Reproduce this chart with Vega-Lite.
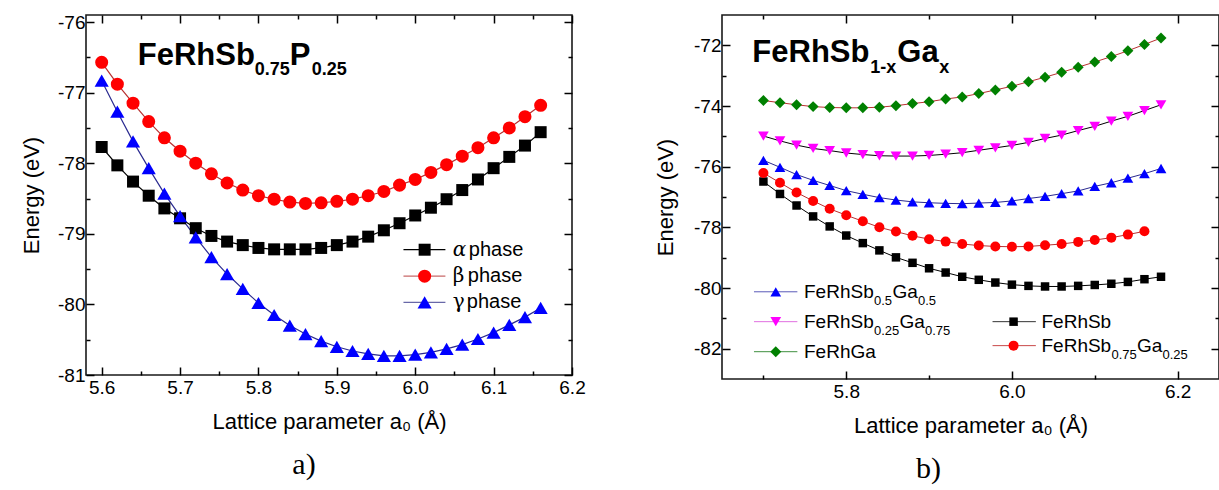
{
"$schema": "https://vega.github.io/schema/vega-lite/v6.json",
"background": "white",
"padding": {"left": 19, "top": 12, "right": 0, "bottom": 0},
"spacing": 66,
"config": {
  "font": "Liberation Sans",
  "view": {"stroke": "#1a1a1a", "strokeWidth": 1.6},
  "axis": {"grid": false, "domain": false, "tickColor": "#000000", "tickWidth": 1.5, "labelFont": "Liberation Sans", "labelFontSize": 19, "labelColor": "#000", "titleFont": "Liberation Sans", "titleFontSize": 22, "titleFontWeight": "normal", "titleColor": "#000", "labelFlush": false, "labelOverlap": false, "labelBound": false}
},
"datasets": {
  "phase": [
    {"a":5.60,"E":-77.77,"phase":"alpha"},{"a":5.62,"E":-78.03,"phase":"alpha"},{"a":5.64,"E":-78.26,"phase":"alpha"},{"a":5.66,"E":-78.46,"phase":"alpha"},{"a":5.68,"E":-78.64,"phase":"alpha"},{"a":5.70,"E":-78.78,"phase":"alpha"},{"a":5.72,"E":-78.92,"phase":"alpha"},{"a":5.74,"E":-79.03,"phase":"alpha"},{"a":5.76,"E":-79.11,"phase":"alpha"},{"a":5.78,"E":-79.16,"phase":"alpha"},{"a":5.80,"E":-79.20,"phase":"alpha"},{"a":5.82,"E":-79.22,"phase":"alpha"},{"a":5.84,"E":-79.22,"phase":"alpha"},{"a":5.86,"E":-79.22,"phase":"alpha"},{"a":5.88,"E":-79.20,"phase":"alpha"},{"a":5.90,"E":-79.16,"phase":"alpha"},{"a":5.92,"E":-79.11,"phase":"alpha"},{"a":5.94,"E":-79.04,"phase":"alpha"},{"a":5.96,"E":-78.95,"phase":"alpha"},{"a":5.98,"E":-78.85,"phase":"alpha"},{"a":6.00,"E":-78.74,"phase":"alpha"},{"a":6.02,"E":-78.63,"phase":"alpha"},{"a":6.04,"E":-78.51,"phase":"alpha"},{"a":6.06,"E":-78.38,"phase":"alpha"},{"a":6.08,"E":-78.23,"phase":"alpha"},{"a":6.10,"E":-78.07,"phase":"alpha"},{"a":6.12,"E":-77.91,"phase":"alpha"},{"a":6.14,"E":-77.75,"phase":"alpha"},{"a":6.16,"E":-77.56,"phase":"alpha"},
    {"a":5.60,"E":-76.57,"phase":"beta"},{"a":5.62,"E":-76.88,"phase":"beta"},{"a":5.64,"E":-77.15,"phase":"beta"},{"a":5.66,"E":-77.41,"phase":"beta"},{"a":5.68,"E":-77.64,"phase":"beta"},{"a":5.70,"E":-77.83,"phase":"beta"},{"a":5.72,"E":-78.00,"phase":"beta"},{"a":5.74,"E":-78.15,"phase":"beta"},{"a":5.76,"E":-78.28,"phase":"beta"},{"a":5.78,"E":-78.38,"phase":"beta"},{"a":5.80,"E":-78.46,"phase":"beta"},{"a":5.82,"E":-78.51,"phase":"beta"},{"a":5.84,"E":-78.55,"phase":"beta"},{"a":5.86,"E":-78.57,"phase":"beta"},{"a":5.88,"E":-78.56,"phase":"beta"},{"a":5.90,"E":-78.54,"phase":"beta"},{"a":5.92,"E":-78.51,"phase":"beta"},{"a":5.94,"E":-78.46,"phase":"beta"},{"a":5.96,"E":-78.40,"phase":"beta"},{"a":5.98,"E":-78.31,"phase":"beta"},{"a":6.00,"E":-78.23,"phase":"beta"},{"a":6.02,"E":-78.13,"phase":"beta"},{"a":6.04,"E":-78.02,"phase":"beta"},{"a":6.06,"E":-77.90,"phase":"beta"},{"a":6.08,"E":-77.78,"phase":"beta"},{"a":6.10,"E":-77.64,"phase":"beta"},{"a":6.12,"E":-77.50,"phase":"beta"},{"a":6.14,"E":-77.34,"phase":"beta"},{"a":6.16,"E":-77.18,"phase":"beta"},
    {"a":5.60,"E":-76.83,"phase":"gamma"},{"a":5.62,"E":-77.27,"phase":"gamma"},{"a":5.64,"E":-77.69,"phase":"gamma"},{"a":5.66,"E":-78.07,"phase":"gamma"},{"a":5.68,"E":-78.43,"phase":"gamma"},{"a":5.70,"E":-78.75,"phase":"gamma"},{"a":5.72,"E":-79.05,"phase":"gamma"},{"a":5.74,"E":-79.33,"phase":"gamma"},{"a":5.76,"E":-79.57,"phase":"gamma"},{"a":5.78,"E":-79.78,"phase":"gamma"},{"a":5.80,"E":-79.98,"phase":"gamma"},{"a":5.82,"E":-80.15,"phase":"gamma"},{"a":5.84,"E":-80.30,"phase":"gamma"},{"a":5.86,"E":-80.42,"phase":"gamma"},{"a":5.88,"E":-80.52,"phase":"gamma"},{"a":5.90,"E":-80.60,"phase":"gamma"},{"a":5.92,"E":-80.66,"phase":"gamma"},{"a":5.94,"E":-80.70,"phase":"gamma"},{"a":5.96,"E":-80.73,"phase":"gamma"},{"a":5.98,"E":-80.73,"phase":"gamma"},{"a":6.00,"E":-80.71,"phase":"gamma"},{"a":6.02,"E":-80.68,"phase":"gamma"},{"a":6.04,"E":-80.63,"phase":"gamma"},{"a":6.06,"E":-80.57,"phase":"gamma"},{"a":6.08,"E":-80.49,"phase":"gamma"},{"a":6.10,"E":-80.40,"phase":"gamma"},{"a":6.12,"E":-80.29,"phase":"gamma"},{"a":6.14,"E":-80.18,"phase":"gamma"},{"a":6.16,"E":-80.05,"phase":"gamma"}
  ],
  "alloy": [
    {"a":5.70,"E":-73.82,"alloy":"FeRhGa"},{"a":5.72,"E":-73.89,"alloy":"FeRhGa"},{"a":5.74,"E":-73.96,"alloy":"FeRhGa"},{"a":5.76,"E":-74.02,"alloy":"FeRhGa"},{"a":5.78,"E":-74.05,"alloy":"FeRhGa"},{"a":5.80,"E":-74.06,"alloy":"FeRhGa"},{"a":5.82,"E":-74.06,"alloy":"FeRhGa"},{"a":5.84,"E":-74.04,"alloy":"FeRhGa"},{"a":5.86,"E":-73.99,"alloy":"FeRhGa"},{"a":5.88,"E":-73.92,"alloy":"FeRhGa"},{"a":5.90,"E":-73.86,"alloy":"FeRhGa"},{"a":5.92,"E":-73.77,"alloy":"FeRhGa"},{"a":5.94,"E":-73.70,"alloy":"FeRhGa"},{"a":5.96,"E":-73.59,"alloy":"FeRhGa"},{"a":5.98,"E":-73.47,"alloy":"FeRhGa"},{"a":6.00,"E":-73.35,"alloy":"FeRhGa"},{"a":6.02,"E":-73.20,"alloy":"FeRhGa"},{"a":6.04,"E":-73.05,"alloy":"FeRhGa"},{"a":6.06,"E":-72.89,"alloy":"FeRhGa"},{"a":6.08,"E":-72.72,"alloy":"FeRhGa"},{"a":6.10,"E":-72.55,"alloy":"FeRhGa"},{"a":6.12,"E":-72.37,"alloy":"FeRhGa"},{"a":6.14,"E":-72.18,"alloy":"FeRhGa"},{"a":6.16,"E":-71.97,"alloy":"FeRhGa"},{"a":6.18,"E":-71.76,"alloy":"FeRhGa"},
    {"a":5.70,"E":-74.99,"alloy":"Sb25"},{"a":5.72,"E":-75.15,"alloy":"Sb25"},{"a":5.74,"E":-75.29,"alloy":"Sb25"},{"a":5.76,"E":-75.40,"alloy":"Sb25"},{"a":5.78,"E":-75.47,"alloy":"Sb25"},{"a":5.80,"E":-75.55,"alloy":"Sb25"},{"a":5.82,"E":-75.60,"alloy":"Sb25"},{"a":5.84,"E":-75.64,"alloy":"Sb25"},{"a":5.86,"E":-75.65,"alloy":"Sb25"},{"a":5.88,"E":-75.65,"alloy":"Sb25"},{"a":5.90,"E":-75.63,"alloy":"Sb25"},{"a":5.92,"E":-75.59,"alloy":"Sb25"},{"a":5.94,"E":-75.54,"alloy":"Sb25"},{"a":5.96,"E":-75.46,"alloy":"Sb25"},{"a":5.98,"E":-75.38,"alloy":"Sb25"},{"a":6.00,"E":-75.30,"alloy":"Sb25"},{"a":6.02,"E":-75.20,"alloy":"Sb25"},{"a":6.04,"E":-75.07,"alloy":"Sb25"},{"a":6.06,"E":-74.96,"alloy":"Sb25"},{"a":6.08,"E":-74.81,"alloy":"Sb25"},{"a":6.10,"E":-74.67,"alloy":"Sb25"},{"a":6.12,"E":-74.50,"alloy":"Sb25"},{"a":6.14,"E":-74.34,"alloy":"Sb25"},{"a":6.16,"E":-74.15,"alloy":"Sb25"},{"a":6.18,"E":-73.96,"alloy":"Sb25"},
    {"a":5.70,"E":-75.79,"alloy":"Sb50"},{"a":5.72,"E":-76.02,"alloy":"Sb50"},{"a":5.74,"E":-76.26,"alloy":"Sb50"},{"a":5.76,"E":-76.45,"alloy":"Sb50"},{"a":5.78,"E":-76.62,"alloy":"Sb50"},{"a":5.80,"E":-76.79,"alloy":"Sb50"},{"a":5.82,"E":-76.91,"alloy":"Sb50"},{"a":5.84,"E":-77.02,"alloy":"Sb50"},{"a":5.86,"E":-77.10,"alloy":"Sb50"},{"a":5.88,"E":-77.16,"alloy":"Sb50"},{"a":5.90,"E":-77.19,"alloy":"Sb50"},{"a":5.92,"E":-77.21,"alloy":"Sb50"},{"a":5.94,"E":-77.22,"alloy":"Sb50"},{"a":5.96,"E":-77.20,"alloy":"Sb50"},{"a":5.98,"E":-77.18,"alloy":"Sb50"},{"a":6.00,"E":-77.13,"alloy":"Sb50"},{"a":6.02,"E":-77.05,"alloy":"Sb50"},{"a":6.04,"E":-76.98,"alloy":"Sb50"},{"a":6.06,"E":-76.89,"alloy":"Sb50"},{"a":6.08,"E":-76.80,"alloy":"Sb50"},{"a":6.10,"E":-76.65,"alloy":"Sb50"},{"a":6.12,"E":-76.53,"alloy":"Sb50"},{"a":6.14,"E":-76.38,"alloy":"Sb50"},{"a":6.16,"E":-76.23,"alloy":"Sb50"},{"a":6.18,"E":-76.06,"alloy":"Sb50"},
    {"a":5.70,"E":-76.21,"alloy":"Sb75"},{"a":5.72,"E":-76.53,"alloy":"Sb75"},{"a":5.74,"E":-76.85,"alloy":"Sb75"},{"a":5.76,"E":-77.13,"alloy":"Sb75"},{"a":5.78,"E":-77.39,"alloy":"Sb75"},{"a":5.80,"E":-77.60,"alloy":"Sb75"},{"a":5.82,"E":-77.80,"alloy":"Sb75"},{"a":5.84,"E":-78.00,"alloy":"Sb75"},{"a":5.86,"E":-78.14,"alloy":"Sb75"},{"a":5.88,"E":-78.28,"alloy":"Sb75"},{"a":5.90,"E":-78.39,"alloy":"Sb75"},{"a":5.92,"E":-78.47,"alloy":"Sb75"},{"a":5.94,"E":-78.55,"alloy":"Sb75"},{"a":5.96,"E":-78.60,"alloy":"Sb75"},{"a":5.98,"E":-78.63,"alloy":"Sb75"},{"a":6.00,"E":-78.64,"alloy":"Sb75"},{"a":6.02,"E":-78.63,"alloy":"Sb75"},{"a":6.04,"E":-78.59,"alloy":"Sb75"},{"a":6.06,"E":-78.55,"alloy":"Sb75"},{"a":6.08,"E":-78.48,"alloy":"Sb75"},{"a":6.10,"E":-78.42,"alloy":"Sb75"},{"a":6.12,"E":-78.34,"alloy":"Sb75"},{"a":6.14,"E":-78.24,"alloy":"Sb75"},{"a":6.16,"E":-78.13,"alloy":"Sb75"},
    {"a":5.70,"E":-76.49,"alloy":"FeRhSb"},{"a":5.72,"E":-76.90,"alloy":"FeRhSb"},{"a":5.74,"E":-77.28,"alloy":"FeRhSb"},{"a":5.76,"E":-77.64,"alloy":"FeRhSb"},{"a":5.78,"E":-77.97,"alloy":"FeRhSb"},{"a":5.80,"E":-78.27,"alloy":"FeRhSb"},{"a":5.82,"E":-78.52,"alloy":"FeRhSb"},{"a":5.84,"E":-78.76,"alloy":"FeRhSb"},{"a":5.86,"E":-78.99,"alloy":"FeRhSb"},{"a":5.88,"E":-79.17,"alloy":"FeRhSb"},{"a":5.90,"E":-79.35,"alloy":"FeRhSb"},{"a":5.92,"E":-79.49,"alloy":"FeRhSb"},{"a":5.94,"E":-79.63,"alloy":"FeRhSb"},{"a":5.96,"E":-79.73,"alloy":"FeRhSb"},{"a":5.98,"E":-79.82,"alloy":"FeRhSb"},{"a":6.00,"E":-79.89,"alloy":"FeRhSb"},{"a":6.02,"E":-79.93,"alloy":"FeRhSb"},{"a":6.04,"E":-79.95,"alloy":"FeRhSb"},{"a":6.06,"E":-79.95,"alloy":"FeRhSb"},{"a":6.08,"E":-79.93,"alloy":"FeRhSb"},{"a":6.10,"E":-79.90,"alloy":"FeRhSb"},{"a":6.12,"E":-79.86,"alloy":"FeRhSb"},{"a":6.14,"E":-79.80,"alloy":"FeRhSb"},{"a":6.16,"E":-79.71,"alloy":"FeRhSb"},{"a":6.18,"E":-79.63,"alloy":"FeRhSb"}
  ]
},
"hconcat": [
{
  "width": 486, "height": 360,
  "title": {"text": "a)", "orient": "bottom", "font": "Liberation Serif", "fontSize": 30, "fontWeight": "normal", "color": "#000", "offset": 18, "frame": "group", "anchor": "middle", "dx": -25},
  "resolve": {"axis": {"x": "independent", "y": "independent"}},
  "layer": [
    {"data": {"name": "phase"},
     "mark": {"type": "line", "strokeWidth": 1.2},
     "encoding": {
       "x": {"field": "a", "type": "quantitative", "scale": {"domain": [5.58, 6.2], "nice": false, "zero": false},
             "axis": {"orient": "bottom", "values": [5.6,5.65,5.7,5.75,5.8,5.85,5.9,5.95,6.0,6.05,6.1,6.15,6.2],
                      "labelExpr": "abs(datum.value*10 - round(datum.value*10)) < 0.01 ? format(datum.value, '.1f') : ''",
                      "tickSize": {"condition": {"test": "abs(datum.value*10 - round(datum.value*10)) < 0.01", "value": -8}, "value": -4},
                      "labelPadding": 11, "title": "Lattice parameter a₀ (Å)", "titlePadding": 10}},
       "y": {"field": "E", "type": "quantitative", "scale": {"domain": [-81, -75.9], "nice": false, "zero": false},
             "axis": {"orient": "left", "values": [-81,-80.5,-80,-79.5,-79,-78.5,-78,-77.5,-77,-76.5,-76],
                      "labelExpr": "abs(datum.value - round(datum.value)) < 0.01 ? '' + round(datum.value) : ''",
                      "tickSize": {"condition": {"test": "abs(datum.value - round(datum.value)) < 0.01", "value": -8}, "value": -4},
                      "labelPadding": 9, "title": "Energy (eV)", "titlePadding": 14}},
       "stroke": {"field": "phase", "type": "nominal", "scale": {"domain": ["alpha", "beta", "gamma"], "range": ["#000000", "#b83030", "#2a2a90"]}, "legend": null}
     }},
    {"data": {"name": "phase"},
     "transform": [{"filter": "datum.phase === 'alpha'"}],
     "mark": {"type": "point", "shape": "square", "filled": true, "size": 144, "color": "#000000", "opacity": 1},
     "encoding": {
       "x": {"field": "a", "type": "quantitative",
             "axis": {"orient": "top", "values": [5.6,5.65,5.7,5.75,5.8,5.85,5.9,5.95,6.0,6.05,6.1,6.15,6.2], "labels": false, "title": null,
                      "tickSize": {"condition": {"test": "abs(datum.value*10 - round(datum.value*10)) < 0.01", "value": -8}, "value": -4}}},
       "y": {"field": "E", "type": "quantitative",
             "axis": {"orient": "right", "values": [-81,-80.5,-80,-79.5,-79,-78.5,-78,-77.5,-77,-76.5,-76], "labels": false, "title": null,
                      "tickSize": {"condition": {"test": "abs(datum.value - round(datum.value)) < 0.01", "value": -8}, "value": -4}}}
     }},
    {"data": {"name": "phase"},
     "transform": [{"filter": "datum.phase === 'beta'"}],
     "mark": {"type": "point", "shape": "circle", "filled": true, "size": 170, "color": "#ff0000", "opacity": 1},
     "encoding": {"x": {"field": "a", "type": "quantitative", "axis": null}, "y": {"field": "E", "type": "quantitative", "axis": null}}},
    {"data": {"name": "phase"},
     "transform": [{"filter": "datum.phase === 'gamma'"}],
     "mark": {"type": "point", "shape": "triangle-up", "filled": true, "size": 200, "color": "#0000ff", "opacity": 1},
     "encoding": {"x": {"field": "a", "type": "quantitative", "axis": null}, "y": {"field": "E", "type": "quantitative", "axis": null}}},
    {"data": {"values": [{}]},
     "layer": [
       {"mark": {"type": "text", "text": "FeRhSb", "font": "Liberation Sans", "fontWeight": "bold", "fontSize": 31, "align": "left", "baseline": "alphabetic", "color": "#000"},
        "encoding": {"x": {"datum": 5.646, "type": "quantitative", "axis": null}, "y": {"datum": -76.61, "type": "quantitative", "axis": null}}},
       {"mark": {"type": "text", "text": "0.75", "font": "Liberation Sans", "fontWeight": "bold", "fontSize": 18, "align": "left", "baseline": "alphabetic", "dx": 117, "dy": 10, "color": "#000"},
        "encoding": {"x": {"datum": 5.646, "type": "quantitative", "axis": null}, "y": {"datum": -76.61, "type": "quantitative", "axis": null}}},
       {"mark": {"type": "text", "text": "P", "font": "Liberation Sans", "fontWeight": "bold", "fontSize": 31, "align": "left", "baseline": "alphabetic", "dx": 152, "color": "#000"},
        "encoding": {"x": {"datum": 5.646, "type": "quantitative", "axis": null}, "y": {"datum": -76.61, "type": "quantitative", "axis": null}}},
       {"mark": {"type": "text", "text": "0.25", "font": "Liberation Sans", "fontWeight": "bold", "fontSize": 18, "align": "left", "baseline": "alphabetic", "dx": 174, "dy": 10, "color": "#000"},
        "encoding": {"x": {"datum": 5.646, "type": "quantitative", "axis": null}, "y": {"datum": -76.61, "type": "quantitative", "axis": null}}},
       {"mark": {"type": "rule", "color": "#000000", "strokeWidth": 1.2},
        "encoding": {"x": {"datum": 5.985, "type": "quantitative", "axis": null}, "x2": {"datum": 6.0385}, "y": {"datum": -79.225, "type": "quantitative", "axis": null}}},
       {"mark": {"type": "rule", "color": "#c86868", "strokeWidth": 1.2},
        "encoding": {"x": {"datum": 5.985, "type": "quantitative", "axis": null}, "x2": {"datum": 6.0385}, "y": {"datum": -79.60, "type": "quantitative", "axis": null}}},
       {"mark": {"type": "rule", "color": "#6868a8", "strokeWidth": 1.2},
        "encoding": {"x": {"datum": 5.985, "type": "quantitative", "axis": null}, "x2": {"datum": 6.0385}, "y": {"datum": -79.97, "type": "quantitative", "axis": null}}},
       {"mark": {"type": "point", "shape": "square", "filled": true, "size": 144, "color": "#000000", "opacity": 1},
        "encoding": {"x": {"datum": 6.012, "type": "quantitative", "axis": null}, "y": {"datum": -79.225, "type": "quantitative", "axis": null}}},
       {"mark": {"type": "point", "shape": "circle", "filled": true, "size": 170, "color": "#ff0000", "opacity": 1},
        "encoding": {"x": {"datum": 6.012, "type": "quantitative", "axis": null}, "y": {"datum": -79.60, "type": "quantitative", "axis": null}}},
       {"mark": {"type": "point", "shape": "triangle-up", "filled": true, "size": 200, "color": "#0000ff", "opacity": 1},
        "encoding": {"x": {"datum": 6.012, "type": "quantitative", "axis": null}, "y": {"datum": -79.97, "type": "quantitative", "axis": null}}},
       {"mark": {"type": "text", "text": "α", "font": "DejaVu Serif", "fontStyle": "italic", "fontSize": 20, "align": "left", "baseline": "middle", "color": "#000"},
        "encoding": {"x": {"datum": 6.048, "type": "quantitative", "axis": null}, "y": {"datum": -79.225, "type": "quantitative", "axis": null}}},
       {"mark": {"type": "text", "text": "β", "font": "DejaVu Serif", "fontSize": 20, "align": "left", "baseline": "middle", "color": "#000"},
        "encoding": {"x": {"datum": 6.048, "type": "quantitative", "axis": null}, "y": {"datum": -79.60, "type": "quantitative", "axis": null}}},
       {"mark": {"type": "text", "text": "γ", "font": "DejaVu Serif", "fontSize": 20, "align": "left", "baseline": "middle", "color": "#000"},
        "encoding": {"x": {"datum": 6.048, "type": "quantitative", "axis": null}, "y": {"datum": -79.97, "type": "quantitative", "axis": null}}},
       {"mark": {"type": "text", "text": "phase", "font": "Liberation Sans", "fontSize": 20, "align": "left", "baseline": "middle", "dx": 16, "color": "#000"},
        "encoding": {"x": {"datum": 6.048, "type": "quantitative", "axis": null}, "y": {"datum": -79.225, "type": "quantitative", "axis": null}}},
       {"mark": {"type": "text", "text": "phase", "font": "Liberation Sans", "fontSize": 20, "align": "left", "baseline": "middle", "dx": 15, "color": "#000"},
        "encoding": {"x": {"datum": 6.048, "type": "quantitative", "axis": null}, "y": {"datum": -79.60, "type": "quantitative", "axis": null}}},
       {"mark": {"type": "text", "text": "phase", "font": "Liberation Sans", "fontSize": 20, "align": "left", "baseline": "middle", "dx": 14, "color": "#000"},
        "encoding": {"x": {"datum": 6.048, "type": "quantitative", "axis": null}, "y": {"datum": -79.97, "type": "quantitative", "axis": null}}}
     ]}
  ]
},
{
  "width": 497, "height": 364,
  "title": {"text": "b)", "orient": "bottom", "font": "Liberation Serif", "fontSize": 30, "fontWeight": "normal", "color": "#000", "offset": 18, "frame": "group", "anchor": "middle", "dx": -42},
  "resolve": {"axis": {"x": "independent", "y": "independent"}},
  "layer": [
    {"data": {"name": "alloy"},
     "mark": {"type": "line", "strokeWidth": 1},
     "encoding": {
       "x": {"field": "a", "type": "quantitative", "scale": {"domain": [5.65, 6.25], "nice": false, "zero": false},
             "axis": {"orient": "bottom", "values": [5.7,5.8,5.9,6.0,6.1,6.2],
                      "labelExpr": "abs(datum.value*5 - round(datum.value*5)) < 0.01 ? format(datum.value, '.1f') : ''",
                      "tickSize": {"condition": {"test": "abs(datum.value*5 - round(datum.value*5)) < 0.01", "value": -8}, "value": -4},
                      "labelPadding": 11, "title": "Lattice parameter a₀ (Å)", "titlePadding": 10}},
       "y": {"field": "E", "type": "quantitative", "scale": {"domain": [-83, -71], "nice": false, "zero": false},
             "axis": {"orient": "left", "values": [-82,-81,-80,-79,-78,-77,-76,-75,-74,-73,-72],
                      "labelExpr": "abs(datum.value/2 - round(datum.value/2)) < 0.01 ? '' + round(datum.value) : ''",
                      "tickSize": {"condition": {"test": "abs(datum.value/2 - round(datum.value/2)) < 0.01", "value": -8}, "value": -4},
                      "labelPadding": 9, "title": "Energy (eV)", "titlePadding": 16}},
       "stroke": {"field": "alloy", "type": "nominal", "scale": {"domain": ["FeRhSb", "Sb75", "Sb50", "Sb25", "FeRhGa"], "range": ["#333333", "#c84848", "#4050a8", "#e070e0", "#3f8f3f"]}, "legend": null}
     }},
    {"data": {"name": "alloy"},
     "transform": [{"filter": "datum.alloy === 'FeRhSb'"}],
     "mark": {"type": "point", "shape": "square", "filled": true, "size": 72, "color": "#000000", "opacity": 1},
     "encoding": {
       "x": {"field": "a", "type": "quantitative",
             "axis": {"orient": "top", "values": [5.7,5.8,5.9,6.0,6.1,6.2], "labels": false, "title": null,
                      "tickSize": {"condition": {"test": "abs(datum.value*5 - round(datum.value*5)) < 0.01", "value": -8}, "value": -4}}},
       "y": {"field": "E", "type": "quantitative",
             "axis": {"orient": "right", "values": [-82,-81,-80,-79,-78,-77,-76,-75,-74,-73,-72], "labels": false, "title": null,
                      "tickSize": {"condition": {"test": "abs(datum.value/2 - round(datum.value/2)) < 0.01", "value": -8}, "value": -4}}}
     }},
    {"data": {"name": "alloy"},
     "transform": [{"filter": "datum.alloy === 'Sb75'"}],
     "mark": {"type": "point", "shape": "circle", "filled": true, "size": 100, "color": "#ff0000", "opacity": 1},
     "encoding": {"x": {"field": "a", "type": "quantitative", "axis": null}, "y": {"field": "E", "type": "quantitative", "axis": null}}},
    {"data": {"name": "alloy"},
     "transform": [{"filter": "datum.alloy === 'Sb50'"}],
     "mark": {"type": "point", "shape": "triangle-up", "filled": true, "size": 115, "color": "#0000ff", "opacity": 1},
     "encoding": {"x": {"field": "a", "type": "quantitative", "axis": null}, "y": {"field": "E", "type": "quantitative", "axis": null}}},
    {"data": {"name": "alloy"},
     "transform": [{"filter": "datum.alloy === 'Sb25'"}],
     "mark": {"type": "point", "shape": "triangle-down", "filled": true, "size": 115, "color": "#ff00ff", "opacity": 1},
     "encoding": {"x": {"field": "a", "type": "quantitative", "axis": null}, "y": {"field": "E", "type": "quantitative", "axis": null}}},
    {"data": {"name": "alloy"},
     "transform": [{"filter": "datum.alloy === 'FeRhGa'"}],
     "mark": {"type": "point", "shape": "diamond", "filled": true, "size": 120, "color": "#008000", "opacity": 1},
     "encoding": {"x": {"field": "a", "type": "quantitative", "axis": null}, "y": {"field": "E", "type": "quantitative", "axis": null}}},
    {"data": {"values": [{}]},
     "layer": [
       {"mark": {"type": "text", "text": "FeRhSb", "font": "Liberation Sans", "fontWeight": "bold", "fontSize": 31, "align": "left", "baseline": "alphabetic", "color": "#000"},
        "encoding": {"x": {"datum": 5.6866, "type": "quantitative", "axis": null}, "y": {"datum": -72.56, "type": "quantitative", "axis": null}}},
       {"mark": {"type": "text", "text": "1-x", "font": "Liberation Sans", "fontWeight": "bold", "fontSize": 18, "align": "left", "baseline": "alphabetic", "dx": 118, "dy": 10.5, "color": "#000"},
        "encoding": {"x": {"datum": 5.6866, "type": "quantitative", "axis": null}, "y": {"datum": -72.56, "type": "quantitative", "axis": null}}},
       {"mark": {"type": "text", "text": "Ga", "font": "Liberation Sans", "fontWeight": "bold", "fontSize": 31, "align": "left", "baseline": "alphabetic", "dx": 145, "color": "#000"},
        "encoding": {"x": {"datum": 5.6866, "type": "quantitative", "axis": null}, "y": {"datum": -72.56, "type": "quantitative", "axis": null}}},
       {"mark": {"type": "text", "text": "x", "font": "Liberation Sans", "fontWeight": "bold", "fontSize": 18, "align": "left", "baseline": "alphabetic", "dx": 187, "dy": 10.5, "color": "#000"},
        "encoding": {"x": {"datum": 5.6866, "type": "quantitative", "axis": null}, "y": {"datum": -72.56, "type": "quantitative", "axis": null}}},

       {"mark": {"type": "rule", "color": "#5a5ab8", "strokeWidth": 1},
        "encoding": {"x": {"datum": 5.6886, "type": "quantitative", "axis": null}, "x2": {"datum": 5.741}, "y": {"datum": -80.125, "type": "quantitative", "axis": null}}},
       {"mark": {"type": "rule", "color": "#e070e0", "strokeWidth": 1},
        "encoding": {"x": {"datum": 5.6886, "type": "quantitative", "axis": null}, "x2": {"datum": 5.741}, "y": {"datum": -81.11, "type": "quantitative", "axis": null}}},
       {"mark": {"type": "rule", "color": "#3f8f3f", "strokeWidth": 1},
        "encoding": {"x": {"datum": 5.6886, "type": "quantitative", "axis": null}, "x2": {"datum": 5.741}, "y": {"datum": -82.10, "type": "quantitative", "axis": null}}},
       {"mark": {"type": "rule", "color": "#333333", "strokeWidth": 1},
        "encoding": {"x": {"datum": 5.9766, "type": "quantitative", "axis": null}, "x2": {"datum": 6.0289}, "y": {"datum": -81.11, "type": "quantitative", "axis": null}}},
       {"mark": {"type": "rule", "color": "#c84848", "strokeWidth": 1},
        "encoding": {"x": {"datum": 5.9766, "type": "quantitative", "axis": null}, "x2": {"datum": 6.0289}, "y": {"datum": -81.90, "type": "quantitative", "axis": null}}},

       {"mark": {"type": "point", "shape": "triangle-up", "filled": true, "size": 115, "color": "#0000ff", "opacity": 1},
        "encoding": {"x": {"datum": 5.7149, "type": "quantitative", "axis": null}, "y": {"datum": -80.125, "type": "quantitative", "axis": null}}},
       {"mark": {"type": "point", "shape": "triangle-down", "filled": true, "size": 115, "color": "#ff00ff", "opacity": 1},
        "encoding": {"x": {"datum": 5.7149, "type": "quantitative", "axis": null}, "y": {"datum": -81.11, "type": "quantitative", "axis": null}}},
       {"mark": {"type": "point", "shape": "diamond", "filled": true, "size": 120, "color": "#008000", "opacity": 1},
        "encoding": {"x": {"datum": 5.7149, "type": "quantitative", "axis": null}, "y": {"datum": -82.10, "type": "quantitative", "axis": null}}},
       {"mark": {"type": "point", "shape": "square", "filled": true, "size": 72, "color": "#000000", "opacity": 1},
        "encoding": {"x": {"datum": 6.002, "type": "quantitative", "axis": null}, "y": {"datum": -81.11, "type": "quantitative", "axis": null}}},
       {"mark": {"type": "point", "shape": "circle", "filled": true, "size": 100, "color": "#ff0000", "opacity": 1},
        "encoding": {"x": {"datum": 6.002, "type": "quantitative", "axis": null}, "y": {"datum": -81.90, "type": "quantitative", "axis": null}}},

       {"mark": {"type": "text", "text": "FeRhSb", "fontSize": 19, "align": "left", "baseline": "middle", "color": "#000"},
        "encoding": {"x": {"datum": 5.749, "type": "quantitative", "axis": null}, "y": {"datum": -80.125, "type": "quantitative", "axis": null}}},
       {"mark": {"type": "text", "text": "0.5", "fontSize": 13, "align": "left", "baseline": "middle", "dx": 70, "dy": 9, "color": "#000"},
        "encoding": {"x": {"datum": 5.749, "type": "quantitative", "axis": null}, "y": {"datum": -80.125, "type": "quantitative", "axis": null}}},
       {"mark": {"type": "text", "text": "Ga", "fontSize": 19, "align": "left", "baseline": "middle", "dx": 88.5, "color": "#000"},
        "encoding": {"x": {"datum": 5.749, "type": "quantitative", "axis": null}, "y": {"datum": -80.125, "type": "quantitative", "axis": null}}},
       {"mark": {"type": "text", "text": "0.5", "fontSize": 13, "align": "left", "baseline": "middle", "dx": 114, "dy": 9, "color": "#000"},
        "encoding": {"x": {"datum": 5.749, "type": "quantitative", "axis": null}, "y": {"datum": -80.125, "type": "quantitative", "axis": null}}},

       {"mark": {"type": "text", "text": "FeRhSb", "fontSize": 19, "align": "left", "baseline": "middle", "color": "#000"},
        "encoding": {"x": {"datum": 5.749, "type": "quantitative", "axis": null}, "y": {"datum": -81.11, "type": "quantitative", "axis": null}}},
       {"mark": {"type": "text", "text": "0.25", "fontSize": 13, "align": "left", "baseline": "middle", "dx": 70, "dy": 9, "color": "#000"},
        "encoding": {"x": {"datum": 5.749, "type": "quantitative", "axis": null}, "y": {"datum": -81.11, "type": "quantitative", "axis": null}}},
       {"mark": {"type": "text", "text": "Ga", "fontSize": 19, "align": "left", "baseline": "middle", "dx": 95.5, "color": "#000"},
        "encoding": {"x": {"datum": 5.749, "type": "quantitative", "axis": null}, "y": {"datum": -81.11, "type": "quantitative", "axis": null}}},
       {"mark": {"type": "text", "text": "0.75", "fontSize": 13, "align": "left", "baseline": "middle", "dx": 121, "dy": 9, "color": "#000"},
        "encoding": {"x": {"datum": 5.749, "type": "quantitative", "axis": null}, "y": {"datum": -81.11, "type": "quantitative", "axis": null}}},

       {"mark": {"type": "text", "text": "FeRhGa", "fontSize": 19, "align": "left", "baseline": "middle", "color": "#000"},
        "encoding": {"x": {"datum": 5.749, "type": "quantitative", "axis": null}, "y": {"datum": -82.10, "type": "quantitative", "axis": null}}},

       {"mark": {"type": "text", "text": "FeRhSb", "fontSize": 19, "align": "left", "baseline": "middle", "color": "#000"},
        "encoding": {"x": {"datum": 6.0357, "type": "quantitative", "axis": null}, "y": {"datum": -81.11, "type": "quantitative", "axis": null}}},

       {"mark": {"type": "text", "text": "FeRhSb", "fontSize": 19, "align": "left", "baseline": "middle", "color": "#000"},
        "encoding": {"x": {"datum": 6.0357, "type": "quantitative", "axis": null}, "y": {"datum": -81.90, "type": "quantitative", "axis": null}}},
       {"mark": {"type": "text", "text": "0.75", "fontSize": 13, "align": "left", "baseline": "middle", "dx": 70, "dy": 9, "color": "#000"},
        "encoding": {"x": {"datum": 6.0357, "type": "quantitative", "axis": null}, "y": {"datum": -81.90, "type": "quantitative", "axis": null}}},
       {"mark": {"type": "text", "text": "Ga", "fontSize": 19, "align": "left", "baseline": "middle", "dx": 95.5, "color": "#000"},
        "encoding": {"x": {"datum": 6.0357, "type": "quantitative", "axis": null}, "y": {"datum": -81.90, "type": "quantitative", "axis": null}}},
       {"mark": {"type": "text", "text": "0.25", "fontSize": 13, "align": "left", "baseline": "middle", "dx": 121, "dy": 9, "color": "#000"},
        "encoding": {"x": {"datum": 6.0357, "type": "quantitative", "axis": null}, "y": {"datum": -81.90, "type": "quantitative", "axis": null}}}
     ]}
  ]
}
]
}
